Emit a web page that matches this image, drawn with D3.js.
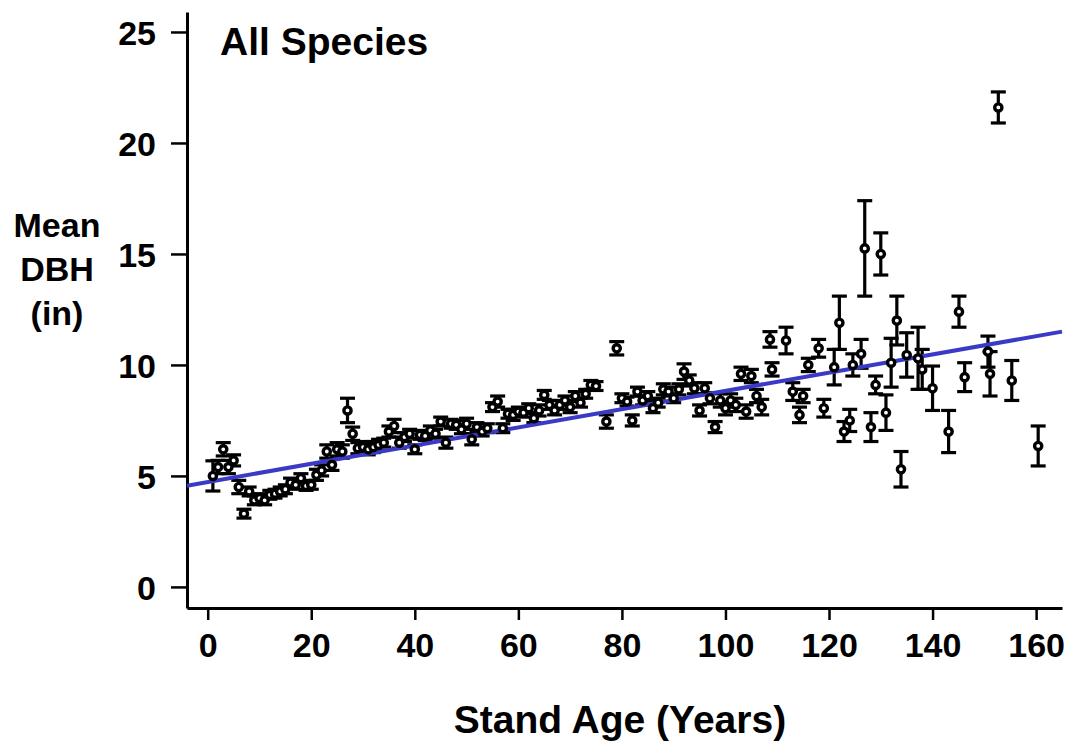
<!DOCTYPE html>
<html>
<head>
<meta charset="utf-8">
<script src="https://cdn.jsdelivr.net/npm/d3@7"></script>
<style>
  body { margin: 0; background: #fff; }
  svg text { font-family: "Liberation Sans", Arial, sans-serif; font-weight: bold; fill: #000; }
</style>
</head>
<body>
<svg id="chart" width="1083" height="745"></svg>
<script>
// stand age (years), mean DBH (in) and half length of the error bar
var ages = [
  1, 2, 3, 4, 5, 6, 7, 8, 9, 10, 11, 12, 13, 14, 15, 16, 17, 18, 19, 20,
  21, 22, 23, 24, 25, 26, 27, 28, 29, 30, 31, 32, 33, 34, 35, 36, 37, 38, 39, 40,
  41, 42, 43, 44, 45, 46, 47, 48, 49, 50, 51, 52, 53, 54, 55, 56, 57, 58, 59, 60,
  61, 62, 63, 64, 65, 66, 67, 68, 69, 70, 71, 72, 73, 74, 75, 77, 79, 80, 81, 82,
  83, 84, 85, 86, 87, 88, 89, 90, 91, 92, 93, 94, 95, 96, 97, 98, 99, 100, 101, 102,
  103, 104, 105, 106, 107, 108.6, 109, 111.7, 113, 114.3, 115, 116, 118, 119, 121, 122,
  122.9, 124, 124.6, 126.2, 126.9, 128.1, 129, 130, 131, 132, 133.1, 133.9, 135, 137.2,
  138, 140, 143.1, 145.1, 146.2, 150.7, 151.1, 152.7, 155.3, 160.4
];
var meanDbh = [
  5.0, 5.4, 6.2, 5.4, 5.7, 4.5, 3.3, 4.3, 3.9, 4.0, 3.9, 4.15, 4.2, 4.3, 4.4, 4.7, 4.6, 4.9, 4.55, 4.6,
  5.05, 5.25, 6.1, 5.5, 6.2, 6.1, 7.95, 6.9, 6.25, 6.3, 6.2, 6.3, 6.4, 6.5, 7.0, 7.25, 6.5, 6.75, 6.9, 6.2,
  6.85, 6.8, 7.05, 6.9, 7.45, 6.5, 7.35, 7.3, 7.1, 7.35, 6.65, 7.2, 7.0, 7.15, 8.1, 8.35, 7.15, 7.8, 7.75, 7.9,
  7.85, 8.05, 7.6, 7.95, 8.65, 8.2, 7.95, 8.2, 8.4, 8.1, 8.6, 8.3, 8.7, 9.1, 9.05, 7.45, 10.75, 8.5, 8.35, 7.5,
  8.8, 8.4, 8.6, 8.05, 8.3, 8.9, 8.8, 8.5, 8.9, 9.7, 9.3, 8.95, 7.95, 8.95, 8.5, 7.2, 8.4, 8.05, 8.4, 8.2,
  9.6, 7.9, 9.5, 8.6, 8.1, 11.15, 9.8, 11.1, 8.8, 7.75, 8.6, 10.0, 10.75, 8.05, 9.9, 11.9,
  7.0, 7.5, 10.0, 10.5, 15.25, 7.2, 9.1, 15.0, 7.85, 10.1, 12.0, 5.3, 10.45, 10.3,
  9.8, 8.95, 7.0, 12.4, 9.45, 10.6, 9.6, 21.6, 9.3, 6.35
];
var halfErr = [
  0.68, 0.3, 0.3, 0.3, 0.25, 0.3, 0.2, 0.2, 0.2, 0.2, 0.2, 0.2, 0.2, 0.2, 0.2, 0.2, 0.2, 0.2, 0.2, 0.2,
  0.25, 0.25, 0.3, 0.25, 0.3, 0.3, 0.55, 0.3, 0.25, 0.25, 0.25, 0.25, 0.25, 0.2, 0.25, 0.3, 0.25, 0.2, 0.2, 0.2,
  0.2, 0.2, 0.2, 0.2, 0.2, 0.25, 0.2, 0.2, 0.2, 0.25, 0.25, 0.2, 0.2, 0.2, 0.2, 0.25, 0.2, 0.2, 0.25, 0.2,
  0.2, 0.2, 0.2, 0.25, 0.2, 0.2, 0.2, 0.2, 0.2, 0.25, 0.2, 0.2, 0.2, 0.2, 0.2, 0.3, 0.3, 0.2, 0.2, 0.25,
  0.2, 0.2, 0.2, 0.2, 0.2, 0.25, 0.2, 0.2, 0.25, 0.35, 0.25, 0.25, 0.25, 0.25, 0.25, 0.25, 0.3, 0.3, 0.3, 0.3,
  0.3, 0.3, 0.3, 0.3, 0.35, 0.35, 0.3, 0.6, 0.4, 0.35, 0.3, 0.3, 0.4, 0.4, 0.8, 1.2,
  0.45, 0.5, 0.5, 0.65, 2.15, 0.65, 0.4, 0.95, 0.8, 1.1, 1.1, 0.8, 1.0, 1.4,
  0.9, 1.0, 0.95, 0.7, 0.65, 0.7, 1.0, 0.7, 0.9, 0.9
];
// fitted trend line, two end points (age, DBH)
var fitAges = [-4, 165];
var fitDbh = [4.56, 11.5];

var xTicks = [0, 20, 40, 60, 80, 100, 120, 140, 160];
var yTicks = [0, 5, 10, 15, 20, 25];

var svg = d3.select('#chart');

var x = d3.scaleLinear().domain([-4, 165]).range([187, 1062]);
var y = d3.scaleLinear().domain([-0.95, 25.9]).range([608, 12]);

var points = ages.map(function(a, i) {
  return { age: a, mean: meanDbh[i], err: halfErr[i] };
});

/*
 * Axes
 */
var yAxis = svg.append('g')
  .attr('transform', 'translate(187, 0)')
  .call(d3.axisLeft(y).tickValues(yTicks).tickSize(16).tickSizeOuter(0).tickPadding(15));

var xAxis = svg.append('g')
  .attr('transform', 'translate(0, 608)')
  .call(d3.axisBottom(x).tickValues(xTicks).tickSize(12).tickSizeOuter(0).tickPadding(13));

[xAxis, yAxis].forEach(function(ax) {
  ax.select('.domain').attr('stroke', '#000').attr('stroke-width', 3);
  ax.selectAll('.tick line').attr('stroke', '#000').attr('stroke-width', 2.5);
  ax.selectAll('.tick text')
    .attr('font-family', '"Liberation Sans", Arial, sans-serif')
    .attr('font-weight', 'bold')
    .attr('font-size', 34)
    .attr('fill', '#000');
});
yAxis.selectAll('.tick text').attr('dy', '0.36em');
xAxis.selectAll('.tick text').attr('dy', '0.72em');

/*
 * Error bars and points
 */
var capHalf = 7.5;
var bars = svg.append('g').attr('class', 'err-bars')
  .attr('stroke', '#000')
  .attr('stroke-width', 3.2);

bars.selectAll('.stem')
  .data(points)
  .enter().append('line')
  .attr('class', 'stem')
  .attr('x1', function(d) { return x(d.age); })
  .attr('x2', function(d) { return x(d.age); })
  .attr('y1', function(d) { return y(d.mean + d.err); })
  .attr('y2', function(d) { return y(d.mean - d.err); });

bars.selectAll('.cap-top')
  .data(points)
  .enter().append('line')
  .attr('class', 'cap-top')
  .attr('x1', function(d) { return x(d.age) - capHalf; })
  .attr('x2', function(d) { return x(d.age) + capHalf; })
  .attr('y1', function(d) { return y(d.mean + d.err); })
  .attr('y2', function(d) { return y(d.mean + d.err); });

bars.selectAll('.cap-bottom')
  .data(points)
  .enter().append('line')
  .attr('class', 'cap-bottom')
  .attr('x1', function(d) { return x(d.age) - capHalf; })
  .attr('x2', function(d) { return x(d.age) + capHalf; })
  .attr('y1', function(d) { return y(d.mean - d.err); })
  .attr('y2', function(d) { return y(d.mean - d.err); });

// trend line drawn between bars and markers
svg.append('line')
  .attr('x1', x(fitAges[0]))
  .attr('y1', y(fitDbh[0]))
  .attr('x2', x(fitAges[1]))
  .attr('y2', y(fitDbh[1]))
  .attr('stroke', '#3a3ac6')
  .attr('stroke-width', 4);

svg.append('g').attr('class', 'markers')
  .selectAll('circle')
  .data(points)
  .enter().append('circle')
  .attr('cx', function(d) { return x(d.age); })
  .attr('cy', function(d) { return y(d.mean); })
  .attr('r', 3.6)
  .attr('fill', '#fff')
  .attr('stroke', '#000')
  .attr('stroke-width', 3.4);

/*
 * Labels
 */
svg.append('text')
  .attr('x', 220)
  .attr('y', 55)
  .attr('font-size', 39)
  .text('All Species');

svg.append('text')
  .attr('x', 620)
  .attr('y', 733)
  .attr('text-anchor', 'middle')
  .attr('font-size', 39)
  .text('Stand Age (Years)');

var yLabel = ['Mean', 'DBH', '(in)'];
svg.append('g').selectAll('text')
  .data(yLabel)
  .enter().append('text')
  .attr('x', 57)
  .attr('y', function(d, i) { return 237 + i * 44; })
  .attr('text-anchor', 'middle')
  .attr('font-size', 34)
  .text(function(d) { return d; });
</script>
</body>
</html>
